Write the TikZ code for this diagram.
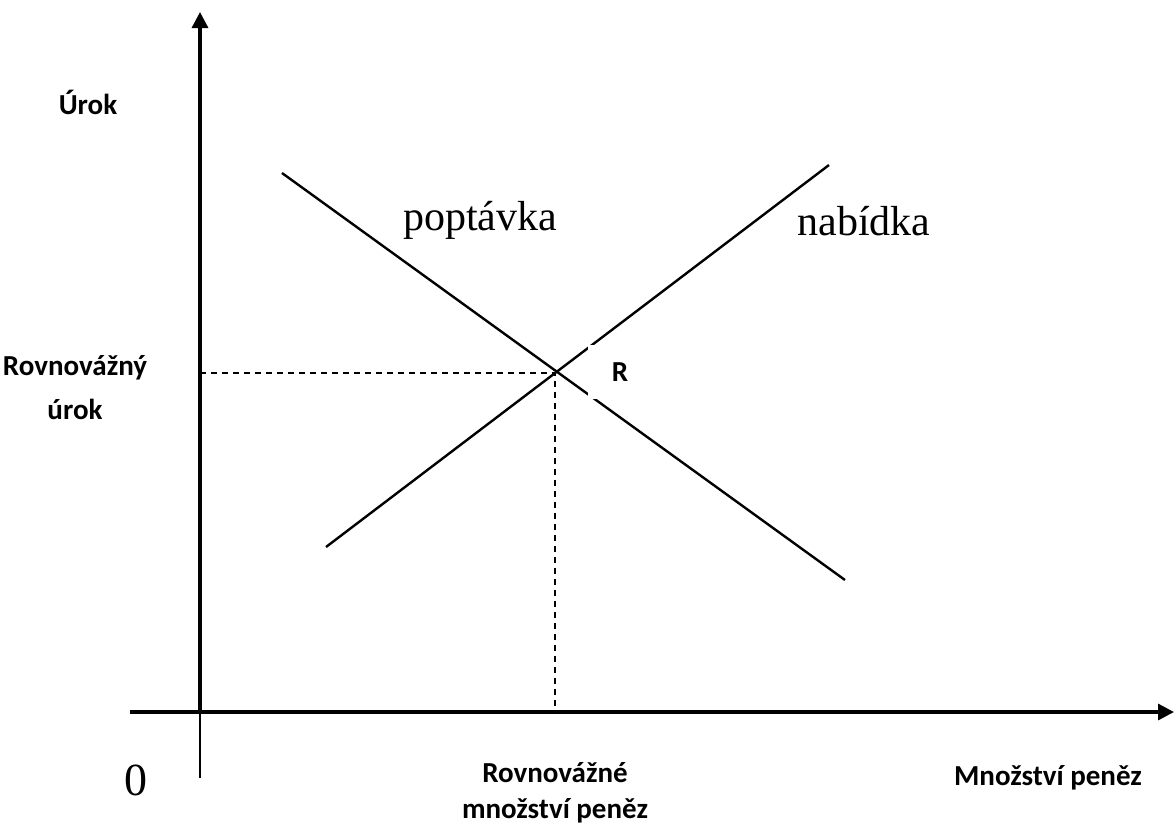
\documentclass[tikz,border=0pt]{standalone}
\usepackage{fontspec}
\setmainfont{Carlito}
\newfontfamily\timesfont{Liberation Serif}
\usetikzlibrary{arrows.meta}

\begin{document}
\begin{tikzpicture}[x=0.5pt,y=-0.5pt,
    axis/.style={line width=1.6pt,-{Triangle[length=8pt,width=8pt]}},
    curve/.style={line width=1.2pt},
    guide/.style={line width=0.9pt,dash pattern=on 3pt off 2.5pt},
    lbl/.style={font=\bfseries\fontsize{14.5}{22}\selectfont,align=center,inner sep=0pt},
    curvelbl/.style={font=\timesfont\fontsize{21}{25}\selectfont,inner sep=0pt}]

    \useasboundingbox (0,0) rectangle (1176,827);

    % Coordinates
    \coordinate (ybot) at (200,778);
    \coordinate (O) at (200,712);
    \coordinate (ytop) at (200,12);
    \coordinate (xleft) at (130,712);
    \coordinate (xright) at (1174,712);
    \coordinate (E) at (555,373);
    \coordinate (Ey) at (200,373);
    \coordinate (Ex) at (555,712);
    \coordinate (d0) at (282,173);
    \coordinate (d1) at (845,580);
    \coordinate (s0) at (326,547);
    \coordinate (s1) at (829,165);

    % Axes
    \draw[line width=0.8pt] (ybot) -- (O);
    \draw[axis] (O) -- (ytop);
    \draw[axis] (xleft) -- (xright);

    % Curves
    \draw[curve] (d0) -- (d1);
    \draw[curve] (s0) -- (s1);
    \draw[guide] (Ey) -- (E) -- (Ex);

    % Nodes
    \node (R) [fill=white, minimum width=32pt, minimum height=27pt,
               font=\bfseries\fontsize{14.5}{18}\selectfont, inner sep=0pt] at (620,372) {R};
    \node (urok) [lbl] at (88,102) {Úrok};
    \node (rurok) [lbl] at (75,388) {Rovnovážný\\úrok};
    \node (zero) [font=\timesfont\fontsize{23}{28}\selectfont, inner sep=0pt] at (136,780) {0};
    \node (rmnoz) [lbl, font=\bfseries\fontsize{14.5}{18}\selectfont] at (555,793) {Rovnovážné\\množství peněz};
    \node (mnoz) [lbl] at (1048,778) {Množství peněz};
    \node (popt) [curvelbl] at (480,220) {poptávka};
    \node (nab) [curvelbl] at (864,221) {nabídka};

\end{tikzpicture}
\end{document}
